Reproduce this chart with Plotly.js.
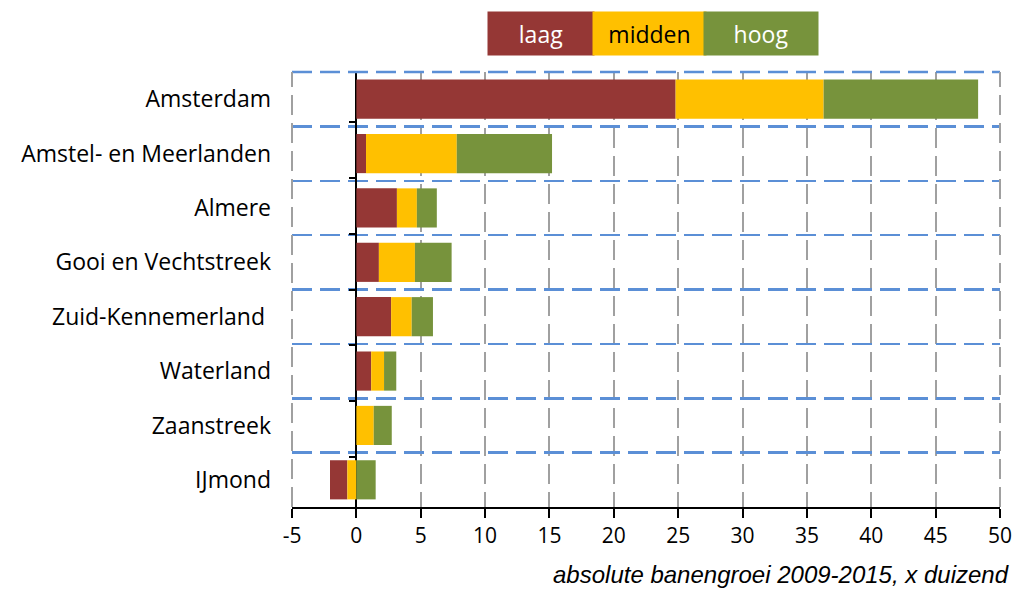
<!DOCTYPE html>
<html><head><meta charset="utf-8">
<script src="https://cdn.plot.ly/plotly-3.0.1.min.js"></script>
<style>body{margin:0;background:#fff}#c{width:1016px;height:600px}</style>
</head><body><div id="c"></div>
<script>
var regions = ["Amsterdam","Amstel- en Meerlanden","Almere","Gooi en Vechtstreek","Zuid-Kennemerland ","Waterland","Zaanstreek","IJmond"];
var laag   = [24.8, 0.75, 3.15, 1.75, 2.7, 1.15, 0.0, -1.35];
var midden = [11.5, 7.05, 1.55, 2.8, 1.6, 1.0, 1.35, -0.7];
var hoog   = [12.0, 7.4, 1.55, 2.85, 1.65, 0.95, 1.4, 1.5];
var seriesNames = ["laag","midden","hoog"];
var colors = ["#953735","#FFC000","#77933C"];
var xTicks = [-5,0,5,10,15,20,25,30,35,40,45,50];

// positive values stack outward laag->midden->hoog; negatives stack with laag outermost
var series = [laag, midden, hoog];
var bases = series.map(function(){return [];});
for (var i=0;i<regions.length;i++){
  var pos=0;
  for (var s=0;s<3;s++){ if(series[s][i]>=0){bases[s][i]=pos;pos+=series[s][i];} }
  var neg=0;
  for (var s2=2;s2>=0;s2--){ if(series[s2][i]<0){bases[s2][i]=neg;neg+=series[s2][i];} }
}
var traces = series.map(function(v,s){
  return {type:"bar",orientation:"h",y:regions,x:v,base:bases[s],name:seriesNames[s],
    marker:{color:colors[s],line:{width:0}},showlegend:false,hoverinfo:"x+y"};
});
// invisible helper trace so the category axis at x=0 can draw its boundary ticks
traces.push({type:"scatter",mode:"none",y:regions,x:regions.map(function(){return 0;}),yaxis:"y2",showlegend:false,hoverinfo:"skip"});
var font = "Open Sans, Noto Sans, sans-serif";
var gridGray = "#a0a0a0", gridBlue = "#5B8FD6", dashPat = "20px,8px";
var layout = {
  width:1016,height:600,
  margin:{l:292,r:16,t:72,b:93},
  barmode:"overlay",bargap:0.28,
  paper_bgcolor:"#fff",plot_bgcolor:"#fff",
  xaxis:{range:[-5,50],tickvals:xTicks,ticktext:xTicks.map(String),
    showgrid:true,gridcolor:gridGray,griddash:dashPat,gridwidth:2,
    zeroline:true,zerolinecolor:"#000",zerolinewidth:2,
    showline:true,linecolor:"#000",linewidth:2,ticks:"outside",ticklen:9,tickwidth:2,tickcolor:"#000",
    tickfont:{family:font,size:21,color:"#000"},mirror:false},
  yaxis:{type:"category",categoryorder:"array",categoryarray:regions.slice().reverse(),
    tickson:"boundaries",showgrid:true,gridcolor:gridBlue,griddash:dashPat,gridwidth:2.5,
    ticks:"",showline:false,tickfont:{family:font,size:23,color:"#000"},ticklabelstandoff:20},
  yaxis2:{type:"category",categoryorder:"array",categoryarray:regions.slice().reverse(),
    overlaying:"y",anchor:"free",position:5/55,side:"left",tickson:"boundaries",
    showgrid:false,showticklabels:false,ticks:"outside",ticklen:7,tickwidth:2,tickcolor:"#000",
    showline:false,zeroline:false},
  shapes:[
    {type:"line",xref:"paper",yref:"paper",x0:0,x1:1,y0:1,y1:1,line:{color:gridBlue,width:2.5,dash:dashPat}},
    {type:"line",xref:"paper",yref:"paper",x0:0,x1:0,y0:0,y1:1,line:{color:gridGray,width:2,dash:dashPat}},
    {type:"line",xref:"paper",yref:"paper",x0:1,x1:1,y0:0,y1:1,line:{color:gridGray,width:2,dash:dashPat}}
  ],
  annotations:[
    {xref:"paper",yref:"paper",x:0.3517,y:1.0885,text:"laag",showarrow:false,bgcolor:colors[0],width:104,height:41,
      font:{family:font,size:23,color:"#fff"},xanchor:"center",yanchor:"middle"},
    {xref:"paper",yref:"paper",x:0.5053,y:1.0885,text:"midden",showarrow:false,bgcolor:colors[1],width:111,height:41,
      font:{family:font,size:23,color:"#000"},xanchor:"center",yanchor:"middle"},
    {xref:"paper",yref:"paper",x:0.662,y:1.0885,text:"hoog",showarrow:false,bgcolor:colors[2],width:112,height:41,
      font:{family:font,size:23,color:"#fff"},xanchor:"center",yanchor:"middle"},
    {xref:"paper",yref:"paper",x:1.0155,y:-0.155,text:"<i>absolute banengroei 2009-2015, x duizend</i>",showarrow:false,
      xanchor:"right",yanchor:"middle",font:{family:"Liberation Sans, Arial, sans-serif",size:24,color:"#000"}}
  ]
};
Plotly.newPlot("c",traces,layout,{displayModeBar:false,staticPlot:true});
</script></body></html>
